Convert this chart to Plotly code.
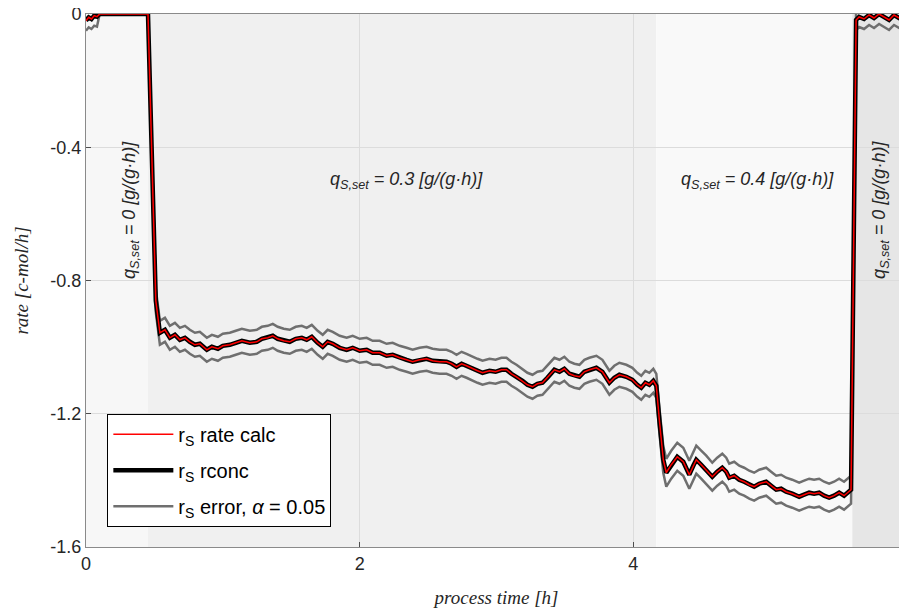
import plotly.graph_objects as go

# ---------------- data ----------------
time_h = [
    0.000, 0.020, 0.040, 0.060, 0.080, 0.100, 0.453,
    0.470, 0.510,
    0.540, 0.577, 0.613, 0.650, 0.686, 0.723, 0.759, 0.796, 0.832, 0.883,
    0.920, 0.964, 1.000, 1.051, 1.095, 1.139, 1.197, 1.248, 1.285, 1.328,
    1.365, 1.401, 1.445, 1.489, 1.533, 1.577, 1.613, 1.650, 1.693, 1.730,
    1.766, 1.803, 1.854, 1.905, 1.949, 2.000, 2.051, 2.095, 2.146, 2.197,
    2.241, 2.292, 2.343, 2.387, 2.438, 2.489, 2.533, 2.584, 2.635, 2.672,
    2.708, 2.745, 2.781, 2.825, 2.861, 2.898, 2.949, 2.993, 3.036, 3.073,
    3.109, 3.146, 3.190, 3.226, 3.263, 3.299, 3.336, 3.372, 3.423, 3.460,
    3.496, 3.533, 3.569, 3.606, 3.642, 3.679, 3.730, 3.774, 3.825, 3.861,
    3.898, 3.949, 3.993, 4.029, 4.058, 4.088, 4.117, 4.146, 4.168,
    4.190, 4.219,
    4.241, 4.277, 4.321, 4.365, 4.409, 4.438, 4.460, 4.496, 4.533, 4.577,
    4.613, 4.650, 4.679, 4.701, 4.737, 4.774, 4.810, 4.847, 4.883, 4.920,
    4.971, 5.007, 5.044, 5.080, 5.117, 5.161, 5.212, 5.248, 5.285, 5.321,
    5.358, 5.394, 5.431, 5.467, 5.504, 5.540, 5.577, 5.591,
    5.606, 5.620, 5.628,
    5.650, 5.686, 5.723, 5.759, 5.796, 5.832, 5.869, 5.905, 5.942, 5.993,
]

rate_calc = [
    -0.020, -0.010, -0.015, -0.005, -0.008, 0.000, 0.000,
    -0.260, -0.860,
    -0.957, -0.948, -0.972, -0.963, -0.978, -0.972, -0.984, -0.993, -0.990, -1.008,
    -0.999, -1.005, -0.996, -0.993, -0.987, -0.981, -0.987, -0.984, -0.975, -0.972,
    -0.966, -0.975, -0.981, -0.984, -0.975, -0.972, -0.978, -0.969, -0.987, -0.999,
    -0.984, -0.990, -1.002, -1.008, -1.002, -1.011, -1.008, -1.017, -1.017, -1.026,
    -1.023, -1.032, -1.038, -1.044, -1.038, -1.035, -1.041, -1.044, -1.044, -1.050,
    -1.059, -1.050, -1.056, -1.065, -1.071, -1.077, -1.071, -1.074, -1.068, -1.068,
    -1.080, -1.089, -1.101, -1.113, -1.119, -1.110, -1.107, -1.092, -1.068, -1.074,
    -1.065, -1.080, -1.086, -1.089, -1.074, -1.068, -1.062, -1.074, -1.107, -1.092,
    -1.083, -1.089, -1.098, -1.113, -1.122, -1.107, -1.113, -1.101, -1.116,
    -1.218, -1.338,
    -1.377, -1.353, -1.329, -1.344, -1.383, -1.356, -1.338, -1.353, -1.368, -1.389,
    -1.374, -1.362, -1.374, -1.392, -1.386, -1.398, -1.404, -1.413, -1.419, -1.410,
    -1.404, -1.416, -1.428, -1.425, -1.434, -1.440, -1.449, -1.443, -1.437, -1.440,
    -1.437, -1.446, -1.452, -1.446, -1.437, -1.446, -1.431, -1.428,
    -0.858, -0.258, -0.018,
    -0.009, -0.015, -0.003, -0.012, 0.000, -0.009, -0.018, -0.003, -0.012, -0.006,
]

rate_rconc = list(rate_calc)

rate_error = [
    0.030, 0.030, 0.030, 0.030, 0.030, 0.000, 0.000,
    0.030, 0.035,
    0.036, 0.036, 0.036, 0.036, 0.036, 0.036, 0.036, 0.036, 0.036, 0.036,
    0.036, 0.036, 0.036, 0.036, 0.036, 0.036, 0.036, 0.036, 0.036, 0.036,
    0.036, 0.036, 0.036, 0.036, 0.036, 0.036, 0.036, 0.036, 0.036, 0.036,
    0.036, 0.036, 0.036, 0.036, 0.036, 0.036, 0.036, 0.036, 0.036, 0.036,
    0.036, 0.036, 0.036, 0.036, 0.036, 0.036, 0.036, 0.036, 0.036, 0.036,
    0.036, 0.036, 0.036, 0.036, 0.036, 0.036, 0.036, 0.036, 0.036, 0.036,
    0.036, 0.036, 0.036, 0.036, 0.036, 0.036, 0.036, 0.036, 0.036, 0.036,
    0.036, 0.036, 0.036, 0.036, 0.036, 0.036, 0.036, 0.036, 0.036, 0.036,
    0.036, 0.036, 0.036, 0.036, 0.036, 0.036, 0.036, 0.036, 0.036,
    0.038, 0.040,
    0.042, 0.042, 0.042, 0.042, 0.042, 0.042, 0.042, 0.042, 0.042, 0.042,
    0.042, 0.042, 0.042, 0.042, 0.042, 0.042, 0.042, 0.042, 0.042, 0.042,
    0.042, 0.042, 0.042, 0.042, 0.042, 0.042, 0.042, 0.042, 0.042, 0.042,
    0.042, 0.042, 0.042, 0.042, 0.042, 0.042, 0.042, 0.042,
    0.040, 0.035, 0.030,
    0.030, 0.030, 0.030, 0.030, 0.030, 0.030, 0.030, 0.030, 0.030, 0.030,
]

# feed-phase background bands: start, end, colour
phase_start = [0.0, 0.453, 4.168, 5.600]
phase_end = [0.453, 4.168, 5.600, 6.0]
phase_color = ["#f7f7f7", "#f0f0f0", "#f9f9f9", "#e6e6e6"]

# setpoint annotations
ann_text = [
    "<i>q<sub>S,set</sub> = 0 [g/(g·h)]</i>",
    "<i>q<sub>S,set</sub> = 0.3 [g/(g·h)]</i>",
    "<i>q<sub>S,set</sub> = 0.4 [g/(g·h)]</i>",
    "<i>q<sub>S,set</sub> = 0 [g/(g·h)]</i>",
]
ann_x = [0.33, 2.345, 4.91, 5.81]
ann_y = [-0.588, -0.50, -0.50, -0.588]
ann_angle = [-90, 0, 0, -90]

x_ticks = [0, 2, 4, 6]
x_ticklabels = ["0", "2", "4", "6"]
y_ticks = [0, -0.4, -0.8, -1.2, -1.6]
y_ticklabels = ["0", "-0.4", "-0.8", "-1.2", "-1.6"]

# ---------------- figure ----------------
upper = [v + e for v, e in zip(rate_calc, rate_error)]
lower = [v - e for v, e in zip(rate_calc, rate_error)]

fig = go.Figure()
gray = "#6f6f6f"
fig.add_trace(go.Scatter(x=time_h, y=upper, mode="lines",
                         line=dict(color=gray, width=2.5),
                         name="r<sub>S</sub> error, <i>α</i> = 0.05",
                         legendgroup="err", legendrank=3, showlegend=True))
fig.add_trace(go.Scatter(x=time_h, y=lower, mode="lines",
                         line=dict(color=gray, width=2.5),
                         name="r<sub>S</sub> error, <i>α</i> = 0.05",
                         legendgroup="err", legendrank=3, showlegend=False))
fig.add_trace(go.Scatter(x=time_h, y=rate_rconc, mode="lines",
                         line=dict(color="black", width=4.5),
                         name="r<sub>S</sub> rconc", legendgroup="rconc", legendrank=2))
fig.add_trace(go.Scatter(x=time_h, y=rate_calc, mode="lines",
                         line=dict(color="#ff0000", width=1.5),
                         name="r<sub>S</sub> rate calc", legendgroup="calc", legendrank=1))

for s, e, c in zip(phase_start, phase_end, phase_color):
    fig.add_shape(type="rect", xref="x", yref="paper", x0=s, x1=e, y0=0, y1=1,
                  fillcolor=c, line_width=0, layer="below")

for t, x, y, a in zip(ann_text, ann_x, ann_y, ann_angle):
    fig.add_annotation(x=x, y=y, xref="x", yref="y", text=t, textangle=a,
                       showarrow=False,
                       font=dict(family="Liberation Sans, Arial", size=18, color="#262626"))

axis_common = dict(showline=True, linecolor="#8a8a8a", linewidth=1, mirror=True,
                   ticks="inside", ticklen=5, tickcolor="#4d4d4d",
                   showgrid=True, gridcolor="#dcdcdc", gridwidth=1, zeroline=False,
                   automargin=False, ticklabeloverflow="allow",
                   tickfont=dict(family="Liberation Sans, Arial", size=18, color="#262626"))

fig.update_xaxes(range=[0, 6], tickvals=x_ticks, ticktext=x_ticklabels,
                 title=dict(text="<i>process time [h]</i>", standoff=18,
                            font=dict(family="Liberation Serif, Times New Roman", size=19, color="#262626")),
                 **axis_common)
fig.update_yaxes(range=[-1.6, 0], tickvals=y_ticks, ticktext=y_ticklabels,
                 title=dict(text="<i>rate [c-mol/h]</i>", standoff=16,
                            font=dict(family="Liberation Serif, Times New Roman", size=19, color="#262626")),
                 **axis_common)

# the page body adds an 8 px margin; the figure is sized so that the whole
# page fits the 907x616 window and the plot area lands where the reference has it
fig.update_layout(
    width=899, height=600,
    margin=dict(l=78, r=0, t=6, b=61),
    plot_bgcolor="white", paper_bgcolor="white",
    legend=dict(x=0.026, y=0.038, xanchor="left", yanchor="bottom",
                bgcolor="white", bordercolor="black", borderwidth=1,
                font=dict(family="Liberation Sans, Arial", size=20, color="black"),
                traceorder="grouped", tracegroupgap=7, itemwidth=60),
    showlegend=True,
)

fig.write_html("out.html")
